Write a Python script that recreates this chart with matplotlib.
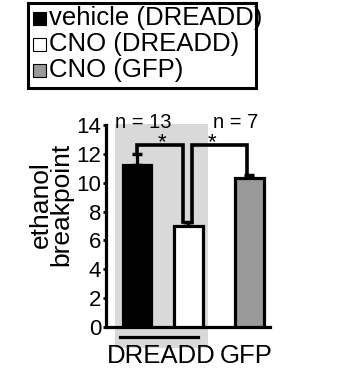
import matplotlib
matplotlib.use("Agg")
import matplotlib.pyplot as plt
from matplotlib.patches import Rectangle

plt.rcParams['font.family'] = ['Liberation Sans', 'DejaVu Sans']

# data
groups = ['vehicle (DREADD)', 'CNO (DREADD)', 'CNO (GFP)']
means = [11.2, 7.0, 10.35]
sems = [0.8, 0.25, 0.2]
bar_colors = ['black', 'white', '#999999']
n_labels = ['n = 13', 'n = 7']
group_labels = ['DREADD', 'GFP']
yticks = [0, 2, 4, 6, 8, 10, 12, 14]

xpos = [0, 1, 2.18]

fig = plt.figure(figsize=(3.45, 3.7), dpi=100)
ax = fig.add_axes([106 / 345, 1 - 327 / 370, 164 / 345, 202 / 370])

# gray shading behind the DREADD group
ax.add_patch(Rectangle((-0.42, -1.45), 1.805, 15.52, facecolor='#d9d9d9',
                       edgecolor='none', clip_on=False, zorder=0))

ax.bar(xpos, means, width=0.55, color=bar_colors, edgecolor='black',
       linewidth=2.3, zorder=3)
ax.errorbar(xpos, means, yerr=[[0, 0, 0], sems], fmt='none', ecolor='black',
            elinewidth=2.3, capsize=3.5, capthick=2.5, zorder=2)

ax.set_xlim(-0.595, 2.58)
ax.set_ylim(0, 14)
ax.set_yticks(yticks)
ax.set_xticks([])
ax.tick_params(axis='y', direction='out', length=2.5, width=2, pad=1,
               labelsize=16)
for s in ['top', 'right']:
    ax.spines[s].set_visible(False)
ax.spines['left'].set_linewidth(2.3)
ax.spines['bottom'].set_linewidth(2.3)
ax.patch.set_visible(False)

ax.set_ylabel('ethanol\nbreakpoint', fontsize=19, linespacing=0.82)
ax.yaxis.set_label_coords(-0.2, 0.605)

# significance brackets
top = 12.6
lw = 2.6
ax.plot([0, 0, 0.9, 0.9], [means[0] + sems[0], top, top, means[1] + sems[1]],
        color='black', lw=lw, clip_on=False, zorder=4, solid_joinstyle='miter')
ax.plot([1.07, 1.07, 2.13, 2.13], [means[1] + sems[1], top, top, means[2] + sems[2]],
        color='black', lw=lw, clip_on=False, zorder=4, solid_joinstyle='miter')
ax.text(0.48, 12.42, '*', ha='center', va='baseline', fontsize=16, clip_on=False)
ax.text(1.45, 12.42, '*', ha='center', va='baseline', fontsize=16, clip_on=False)

ax.text(0.13, 13.8, n_labels[0], ha='center', va='baseline', fontsize=14.5)
ax.text(1.92, 13.8, n_labels[1], ha='center', va='baseline', fontsize=14.5)

# group underline and labels
ax.plot([-0.32, 1.19], [-0.69, -0.69], color='black', lw=2.3, clip_on=False)
ax.text(0.47, -2.52, group_labels[0], ha='center', va='baseline', fontsize=18.5)
ax.text(2.12, -2.52, group_labels[1], ha='center', va='baseline', fontsize=18.5)

# legend box drawn by hand
W, H = 345, 370
fig.patches.append(Rectangle((28 / W, 1 - 88 / H), 228 / W, 85 / H,
                             transform=fig.transFigure, facecolor='white',
                             edgecolor='black', linewidth=2.2, zorder=5))
baselines = [25, 51, 77]
for lab, col, yb in zip(groups, bar_colors, baselines):
    fig.patches.append(Rectangle((33 / W, 1 - yb / H), 13 / W, 13 / H,
                                 transform=fig.transFigure, facecolor=col,
                                 edgecolor='black', linewidth=0.8, zorder=6))
    fig.text(49 / W, 1 - yb / H, lab, fontsize=18.5, va='baseline', ha='left',
             zorder=6)

fig.savefig('out.png', dpi=100, facecolor='white')
